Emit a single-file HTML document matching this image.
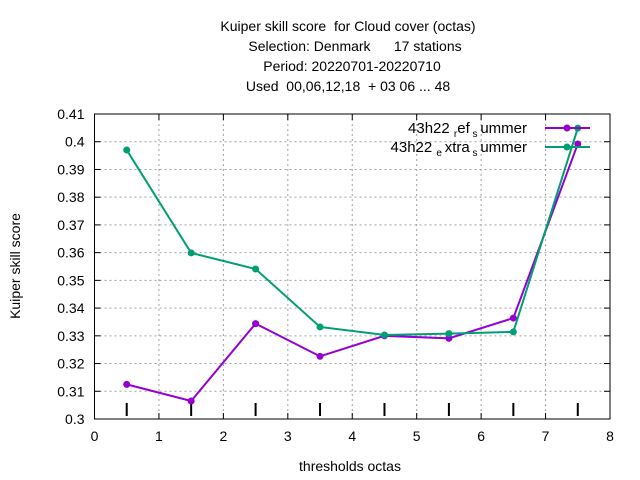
<!DOCTYPE html>
<html><head><meta charset="utf-8"><style>
body{margin:0;background:#fff}
svg{display:block;font-family:"Liberation Sans",sans-serif}
text{white-space:pre}
</style></head><body>
<svg id="c" width="640" height="480">
<g font-size="14" text-anchor="middle" fill="#000">
<text x="348" y="31">Kuiper skill score  for Cloud cover (octas)</text>
<text x="355" y="51">Selection: Denmark      17 stations</text>
<text x="352" y="71">Period: 20220701-20220710</text>
<text x="348" y="91">Used  00,06,12,18  + 03 06 ... 48</text>
</g>
<text x="20" y="266" font-size="14" text-anchor="middle" transform="rotate(-90 20 266)">Kuiper skill score</text>
<text x="350" y="471" font-size="14" text-anchor="middle">thresholds octas</text>
<g id="grid"></g><g id="axes"></g><g id="series"></g>
<g font-size="15" text-anchor="end">
<text x="527" y="133">43h22 <tspan font-size="10" dy="4">r</tspan><tspan dy="-4">ef</tspan><tspan font-size="10" dy="4"> s </tspan><tspan dy="-4">ummer</tspan></text>
<text x="527" y="152">43h22 <tspan font-size="10" dy="4">e </tspan><tspan dy="-4">xtra</tspan><tspan font-size="10" dy="4"> s </tspan><tspan dy="-4">ummer</tspan></text>
<line x1="545" y1="128" x2="590" y2="128" stroke="#9400d3" stroke-width="2"/>
<circle cx="567" cy="128" r="3.5" fill="#9400d3"/>
<line x1="545" y1="147" x2="590" y2="147" stroke="#009e73" stroke-width="2"/>
<circle cx="567" cy="147" r="3.5" fill="#009e73"/>
</g>
</svg>
<script>
const thresholds=[0.5,1.5,2.5,3.5,4.5,5.5,6.5,7.5];
const refSummer=[0.3125,0.3065,0.3344,0.3226,0.3300,0.3291,0.3364,0.3992];
const extraSummer=[0.3970,0.3599,0.3541,0.3332,0.3303,0.3308,0.3314,0.4049];
const xTicks=[0,1,2,3,4,5,6,7,8];
const yTicks=[0.3,0.31,0.32,0.33,0.34,0.35,0.36,0.37,0.38,0.39,0.4,0.41];
const yLabels=["0.3","0.31","0.32","0.33","0.34","0.35","0.36","0.37","0.38","0.39","0.4","0.41"];
const L=94.5,R=610,T=114,B=419;
const X=v=>L+(v-0)/8*(R-L);
const Y=v=>B-(v-0.3)/0.11*(B-T);
const NS="http://www.w3.org/2000/svg";
function mk(t,a,p){const e=document.createElementNS(NS,t);for(const k in a)e.setAttribute(k,a[k]);p.appendChild(e);return e;}
const grid=document.getElementById('grid'),axes=document.getElementById('axes'),ser=document.getElementById('series');
xTicks.forEach(v=>{
 if(v>0&&v<8){const g=mk('line',{x1:X(v),x2:X(v),y1:T,y2:B,stroke:'#a0a0a0','stroke-dasharray':'2,3','stroke-width':1},grid);
 
 }
 const t=mk('text',{x:X(v),y:B+22,'font-size':14,'text-anchor':'middle'},axes);t.textContent=v;
 
 
 mk('line',{x1:X(v),x2:X(v),y1:B,y2:B-6,stroke:'#000'},axes);
 mk('line',{x1:X(v),x2:X(v),y1:T,y2:T+6,stroke:'#000'},axes);
});
yTicks.forEach((v,i)=>{
 if(i>0&&i<yTicks.length-1){const g=mk('line',{x1:L,x2:R,y1:Y(v),y2:Y(v),stroke:'#a0a0a0','stroke-dasharray':'2,3','stroke-width':1},grid);
 
 }
 const t=mk('text',{x:L-10,y:Y(v)+5,'font-size':14,'text-anchor':'end'},axes);t.textContent=yLabels[i];
 
 
 mk('line',{x1:L,x2:L+6,y1:Y(v),y2:Y(v),stroke:'#000'},axes);
 mk('line',{x1:R,x2:R-6,y1:Y(v),y2:Y(v),stroke:'#000'},axes);
});
const box=mk('rect',{x:L,y:T,width:R-L,height:B-T,fill:'none',stroke:'#000'},axes);


thresholds.forEach(v=>{const m=mk('line',{x1:X(v),x2:X(v),y1:B-16,y2:B-3,stroke:'#000','stroke-width':2},axes);
 
 });
function series(vals,col,name){
 const p=mk('polyline',{points:thresholds.map((x,i)=>X(x)+','+Y(vals[i])).join(' '),fill:'none',stroke:col,'stroke-width':2},ser);
 
 
 thresholds.forEach((x,i)=>{const c=mk('circle',{cx:X(x),cy:Y(vals[i]),r:3.5,fill:col},ser);
 
 });
}
series(refSummer,'#9400d3','ref-summer');
series(extraSummer,'#009e73','extra-summer');
</script>
</body></html>
